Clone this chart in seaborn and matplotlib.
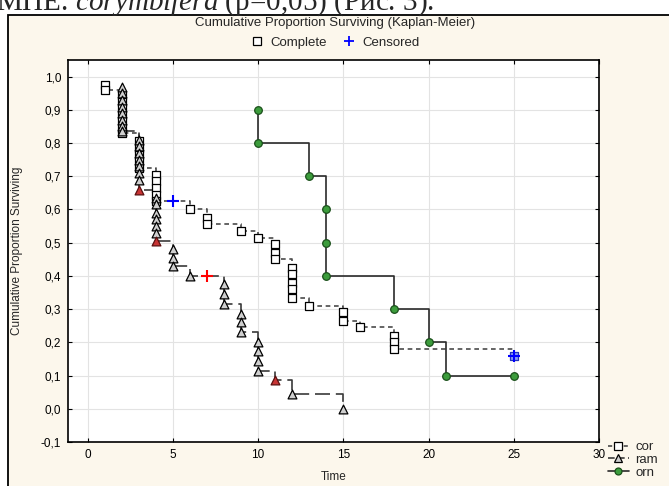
import matplotlib
matplotlib.use("Agg")
import matplotlib.pyplot as plt
from matplotlib.lines import Line2D
from matplotlib.patches import Rectangle
from matplotlib.ticker import FuncFormatter
import pandas as pd
import seaborn as sns

# ---- values (Kaplan-Meier steps) ----
cor_time = [1, 1,
            2, 2, 2, 2, 2, 2, 2,
            3, 3, 3, 3, 3,
            4, 4, 4, 4, 4,
            5, 6, 7, 7, 9, 10,
            11, 11, 11,
            12, 12, 12, 12, 12,
            13, 15, 15, 16,
            18, 18, 18, 25]
cor_surv = [0.975, 0.96,
            0.945, 0.925, 0.905, 0.885, 0.865, 0.845, 0.83,
            0.805, 0.785, 0.765, 0.745, 0.725,
            0.705, 0.685, 0.665, 0.645, 0.625,
            0.625, 0.60, 0.575, 0.555, 0.535, 0.515,
            0.495, 0.47, 0.45,
            0.425, 0.405, 0.38, 0.36, 0.335,
            0.31, 0.29, 0.265, 0.245,
            0.22, 0.20, 0.18, 0.16]
cor_cens = [False] * 19 + [True] + [False] * 20 + [True]

ram_time = [2, 2, 2, 2, 2, 2, 2, 2,
            3, 3, 3, 3, 3, 3, 3, 3,
            4, 4, 4, 4, 4, 4, 4,
            5, 5, 5, 6, 7,
            8, 8, 8, 9, 9, 9,
            10, 10, 10, 10,
            11, 12, 15]
ram_surv = [0.97, 0.95, 0.93, 0.91, 0.89, 0.87, 0.85, 0.835,
            0.81, 0.79, 0.77, 0.75, 0.73, 0.71, 0.69, 0.66,
            0.635, 0.615, 0.59, 0.57, 0.55, 0.53, 0.505,
            0.48, 0.455, 0.43, 0.40, 0.40,
            0.375, 0.345, 0.315, 0.285, 0.26, 0.23,
            0.20, 0.175, 0.145, 0.115,
            0.087, 0.045, 0.0]
ram_cens = ([False] * 15 + [True] + [False] * 6 + [True] + [False] * 4 + [True]
            + [False] * 10 + [True] + [False] * 2)

orn_time = [10, 10, 13, 14, 14, 14, 18, 20, 21, 25]
orn_surv = [0.9, 0.8, 0.7, 0.6, 0.5, 0.4, 0.3, 0.2, 0.1, 0.1]
orn_cens = [False] * 10

x_ticks = [0, 5, 10, 15, 20, 25, 30]
y_ticks = [-0.1, 0.0, 0.1, 0.2, 0.3, 0.4, 0.5, 0.6, 0.7, 0.8, 0.9, 1.0]

sns.set_style("whitegrid")
plt.rcParams['font.family'] = ['Liberation Sans', 'DejaVu Sans']
plt.rcParams['mathtext.fontset'] = 'custom'
plt.rcParams['mathtext.it'] = 'Liberation Serif:italic'
plt.rcParams['mathtext.rm'] = 'Liberation Serif'

fig = plt.figure(figsize=(6.69, 4.86), dpi=100)
fig.patch.set_facecolor('white')

# beige panel with black frame (cropped from a document page)
fig.add_artist(Rectangle((8 / 669, -0.2), 1.2, 1.2 - 15 / 486, transform=fig.transFigure,
                         facecolor='#fcf7ec', edgecolor='black', lw=1.3, zorder=0))

# remains of the caption line above the picture (cut by the top edge)
fig.text(-4 / 669, 1 - 10 / 486, r"МПЕ. $\it{corymbifera}$ (p=0,05) (Рис. 3).",
         fontsize=21, family='Liberation Serif', va='baseline', zorder=1)

ax = fig.add_axes([68 / 669, 44 / 486, 531 / 669, 382 / 486])
ax.set_facecolor('white')


def draw_series(t, s, cens, line_color, ls, marker, face, edge, cens_face, cens_edge, plus_color, msize):
    df = pd.DataFrame({'time': t, 'surv': s, 'cens': cens})
    sns.lineplot(data=df, x='time', y='surv', estimator=None, sort=False,
                 drawstyle='steps-post', color=line_color, linestyle=ls, lw=1.2,
                 ax=ax, zorder=2)
    prev = df['surv'].shift(1)
    dropped = df['surv'] < prev - 1e-9
    comp = df[~df['cens']]
    sns.scatterplot(data=comp, x='time', y='surv', marker=marker, s=msize,
                    color=face, edgecolor=edge, linewidth=0.9, ax=ax, zorder=3)
    c_drop = df[df['cens'] & dropped]
    if len(c_drop):
        sns.scatterplot(data=c_drop, x='time', y='surv', marker=marker, s=msize,
                        color=cens_face, edgecolor=cens_edge, linewidth=0.9, ax=ax, zorder=4)
    c_flat = df[df['cens'] & ~dropped]
    if plus_color == 'blue':
        c_flat = pd.concat([c_flat, c_drop])
    if len(c_flat):
        sns.scatterplot(data=c_flat, x='time', y='surv', marker='+', s=70,
                        color=plus_color, linewidth=1.5, ax=ax, zorder=5)


draw_series(cor_time, cor_surv, cor_cens, '#4a4a4a', (0, (2.8, 2.2)), 's',
            'white', 'black', '#8c9cf4', '#2233bb', 'blue', 38)
draw_series(ram_time, ram_surv, ram_cens, '#3a3a3a', (0, (9, 3.5)), '^',
            '#cfcfcf', 'black', '#c83434', '#5a1010', 'red', 40)
draw_series(orn_time, orn_surv, orn_cens, '#2a2a2a', '-', 'o',
            '#3c9c3c', '#1a4f1a', '#3c9c3c', '#1a4f1a', 'green', 30)

ax.set_xlim(-1.15, 30)
ax.set_ylim(-0.1, 1.05)
ax.set_xticks(x_ticks)
ax.set_yticks(y_ticks)
ax.yaxis.set_major_formatter(FuncFormatter(lambda v, p: f"{v:.1f}".replace('.', ',')))
ax.xaxis.set_major_formatter(FuncFormatter(lambda v, p: f"{v:.0f}"))
ax.tick_params(direction='in', length=3, width=0.8, colors='black', labelsize=8.5,
               top=True, right=True, left=True, bottom=True, pad=5)
ax.grid(True, color='#e3e3e3', lw=0.8)
for sp in ax.spines.values():
    sp.set_color('black')
    sp.set_linewidth(1.2)

ax.set_xlabel("Time", fontsize=8.5)
ax.set_ylabel("Cumulative Proportion Surviving", fontsize=8.5)
ax.xaxis.set_label_coords(0.5, -0.076)
ax.yaxis.set_label_coords(-0.084, 0.5)

fig.text(335 / 669, 1 - 23 / 486, "Cumulative Proportion Surviving (Kaplan-Meier)",
         ha='center', va='center', fontsize=9.5)

top_handles = [
    Line2D([], [], ls='none', marker='s', markersize=5.5, mfc='white', mec='black', mew=0.9),
    Line2D([], [], ls='none', marker='+', markersize=7, color='blue', mew=1.3),
]
fig.legend(top_handles, ['Complete', 'Censored'], loc='center', ncol=2,
           bbox_to_anchor=(335 / 669, 1 - 43 / 486), frameon=False, fontsize=9.5,
           handlelength=1.0, handletextpad=0.5, columnspacing=1.2)

side_handles = [
    Line2D([], [], color='#4a4a4a', ls=(0, (2.5, 2.2)), lw=1.2, marker='s', markersize=5.5,
           mfc='white', mec='black', mew=0.9),
    Line2D([], [], color='#3a3a3a', ls=(0, (4, 2)), lw=1.2, marker='^', markersize=5.5,
           mfc='#cfcfcf', mec='black', mew=0.9),
    Line2D([], [], color='#2a2a2a', ls='-', lw=1.2, marker='o', markersize=5,
           mfc='#3c9c3c', mec='#1a4f1a', mew=0.9),
]
fig.legend(side_handles, ['cor', 'ram', 'orn'], loc='upper left',
           bbox_to_anchor=(600 / 669, 1 - 433 / 486), frameon=False, fontsize=9.5,
           handlelength=1.6, handletextpad=0.5, labelspacing=0.05, borderpad=0.1)

fig.savefig("out.png", dpi=100, facecolor=fig.get_facecolor())
